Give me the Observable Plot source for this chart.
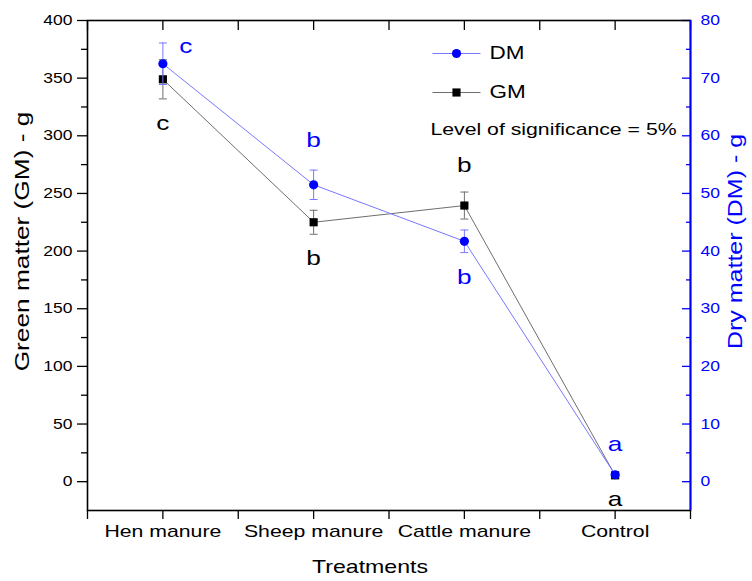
<!DOCTYPE html>
<html><head><meta charset="utf-8">
<script src="https://cdn.jsdelivr.net/npm/d3@7"></script>
<script src="https://cdn.jsdelivr.net/npm/@observablehq/plot@0.6"></script>
<style>
html,body{margin:0;padding:0;background:#fff;}
</style></head><body><div id="chart"></div>
<script>
// ---- data ----
const treatments = ["Hen manure", "Sheep manure", "Cattle manure", "Control"];
const gmValues = [349, 225, 239.5, 5.5];     // Green matter (GM) - g
const gmErrors = [17, 10.4, 11.7, 0];
const dmValues = [72.5, 51.5, 41.7, 1.2];    // Dry matter (DM) - g
const dmErrors = [3.6, 2.55, 1.96, 0];
const gmLetters = ["c", "b", "b", "a"];
const dmLetters = ["c", "b", "b", "a"];
const gmLetterSide = ["below", "below", "above", "below"];
const dmLetterSide = ["right", "above", "below", "above"];
const gmTicks = [0, 50, 100, 150, 200, 250, 300, 350, 400];
const gmMinorTicks = [25, 75, 125, 175, 225, 275, 325, 375];
const dmTicks = [0, 10, 20, 30, 40, 50, 60, 70, 80];
const dmMinorTicks = [5, 15, 25, 35, 45, 55, 65, 75];
const xTicks = [-0.5, 0, 0.5, 1, 1.5, 2, 2.5, 3, 3.5];
const significance = "Level of significance = 5%";

// ---- derived ----
const DM2GM = 400 / 80; // right axis 0..80 aligned with left 0..400
const rows = treatments.map((t, i) => ({
  i, t,
  gm: gmValues[i], gmErr: gmErrors[i],
  dm: dmValues[i] * DM2GM, dmErr: dmErrors[i] * DM2GM,
  gmL: gmLetters[i], dmL: dmLetters[i],
  gmSide: gmLetterSide[i], dmSide: dmLetterSide[i]
}));

const BLUE = "#0000ff";
const LBLUE = "#7878ff";
const GREY = "#6e6e6e";
const capSymbol = {draw(ctx, size) { const r = Math.sqrt(size / Math.PI); ctx.moveTo(-r, 0); ctx.lineTo(r, 0); }};
const lineSymbol = capSymbol;

const chart = Plot.plot({
  width: 752, height: 581,
  marginLeft: 87, marginRight: 62, marginTop: 20, marginBottom: 71,
  style: {fontFamily: "'Liberation Sans', Arial, sans-serif", fontSize: "14px", background: "#fff", overflow: "visible"},
  x: {domain: [-0.5, 3.5]},
  y: {domain: [-25, 400]},
  marks: [
    // axes
    Plot.axisY({anchor: "left", ticks: gmTicks, tickSize: 10, tickPadding: 5, fontSize: 14, label: null, color: "#000", strokeWidth: 1.3}),
    Plot.axisY({anchor: "left", ticks: gmMinorTicks, tickSize: 6, tickFormat: () => "", label: null, color: "#000", strokeWidth: 1.3}),
    Plot.axisY({anchor: "right", ticks: dmTicks.map(d => d * DM2GM), tickFormat: d => String(d / DM2GM), tickSize: -9, tickPadding: 19, fontSize: 14, label: null, color: BLUE, strokeWidth: 1.3}),
    Plot.axisY({anchor: "right", ticks: dmMinorTicks.map(d => d * DM2GM), tickSize: -5, tickFormat: () => "", label: null, color: BLUE, strokeWidth: 1.3}),
    Plot.axisX({anchor: "bottom", ticks: xTicks, tickSize: 9, tickPadding: 5, fontSize: 17, label: null, color: "#000", strokeWidth: 1.3,
      tickFormat: d => Number.isInteger(d) ? treatments[d] : ""}),
    Plot.axisX({anchor: "top", ticks: xTicks, tickSize: -9, tickFormat: () => "", label: null, color: "#000", strokeWidth: 1.3}),
    Plot.frame({stroke: "#000", strokeWidth: 1.6}),
    Plot.ruleX([3.5], {stroke: BLUE, strokeWidth: 1.8}),

    // GM series
    Plot.ruleX(rows.filter(d => d.gmErr > 0), {x: "i", y1: d => d.gm - d.gmErr, y2: d => d.gm + d.gmErr, stroke: GREY, strokeWidth: 1}),
    Plot.dot(rows.filter(d => d.gmErr > 0), {x: "i", y: d => d.gm - d.gmErr, symbol: capSymbol, r: 4, stroke: GREY, fill: "none", strokeWidth: 1}),
    Plot.dot(rows.filter(d => d.gmErr > 0), {x: "i", y: d => d.gm + d.gmErr, symbol: capSymbol, r: 4, stroke: GREY, fill: "none", strokeWidth: 1}),
    Plot.line(rows, {x: "i", y: "gm", stroke: GREY, strokeWidth: 1}),
    Plot.dot(rows, {x: "i", y: "gm", symbol: "square", r: 4.6, fill: "#000", stroke: "none"}),

    // DM series
    Plot.ruleX(rows.filter(d => d.dmErr > 0), {x: "i", y1: d => d.dm - d.dmErr, y2: d => d.dm + d.dmErr, stroke: LBLUE, strokeWidth: 1}),
    Plot.dot(rows.filter(d => d.dmErr > 0), {x: "i", y: d => d.dm - d.dmErr, symbol: capSymbol, r: 4, stroke: LBLUE, fill: "none", strokeWidth: 1}),
    Plot.dot(rows.filter(d => d.dmErr > 0), {x: "i", y: d => d.dm + d.dmErr, symbol: capSymbol, r: 4, stroke: LBLUE, fill: "none", strokeWidth: 1}),
    Plot.line(rows, {x: "i", y: "dm", stroke: LBLUE, strokeWidth: 1}),
    Plot.dot(rows, {x: "i", y: "dm", r: 4.6, fill: BLUE, stroke: "none"}),

    // significance letters
    Plot.text(rows.filter(d => d.gmSide === "below"), {x: "i", y: d => d.gm - d.gmErr, text: "gmL", dy: 24, fontSize: 21, fill: "#000"}),
    Plot.text(rows.filter(d => d.gmSide === "above"), {x: "i", y: d => d.gm + d.gmErr, text: "gmL", dy: -27, fontSize: 21, fill: "#000"}),
    Plot.text(rows.filter(d => d.dmSide === "below"), {x: "i", y: d => d.dm - d.dmErr, text: "dmL", dy: 25, fontSize: 21, fill: BLUE}),
    Plot.text(rows.filter(d => d.dmSide === "above"), {x: "i", y: d => d.dm + d.dmErr, text: "dmL", dy: -30, fontSize: 21, fill: BLUE}),
    Plot.text(rows.filter(d => d.dmSide === "right"), {x: "i", y: d => d.dm + d.dmErr, text: "dmL", dx: 23, dy: 3, fontSize: 21, fill: BLUE}),

    // legend
    Plot.dot(["DM"], {frameAnchor: "top-left", dx: 369, dy: 33, symbol: lineSymbol, r: 24, stroke: LBLUE, fill: "none", strokeWidth: 1}),
    Plot.dot(["DM"], {frameAnchor: "top-left", dx: 369, dy: 33, r: 4.6, fill: BLUE, stroke: "none"}),
    Plot.text(["DM"], {frameAnchor: "top-left", dx: 402, dy: 33, text: d => d, textAnchor: "start", lineAnchor: "middle", fontSize: 18, fill: "#000"}),
    Plot.dot(["GM"], {frameAnchor: "top-left", dx: 369, dy: 72, symbol: lineSymbol, r: 24, stroke: GREY, fill: "none", strokeWidth: 1}),
    Plot.dot(["GM"], {frameAnchor: "top-left", dx: 369, dy: 72, symbol: "square", r: 4.6, fill: "#000", stroke: "none"}),
    Plot.text(["GM"], {frameAnchor: "top-left", dx: 402, dy: 72, text: d => d, textAnchor: "start", lineAnchor: "middle", fontSize: 18, fill: "#000"}),
    Plot.text([significance], {frameAnchor: "top-left", dx: 466, dy: 109, text: d => d, textAnchor: "middle", lineAnchor: "middle", fontSize: 17, fill: "#000"}),

    // axis titles
    Plot.text(["Green matter (GM) - g"], {frameAnchor: "left", dx: -65, dy: -24, rotate: -90, text: d => d, textAnchor: "middle", lineAnchor: "middle", fontSize: 21, fill: "#000"}),
    Plot.text(["Dry matter (DM) - g"], {frameAnchor: "right", dx: 45, dy: -24, rotate: -90, text: d => d, textAnchor: "middle", lineAnchor: "middle", fontSize: 20, fill: BLUE}),
    Plot.text(["Treatments"], {frameAnchor: "bottom", dx: -19, dy: 57, text: d => d, textAnchor: "middle", lineAnchor: "middle", fontSize: 18.5, fill: "#000"})
  ]
});

// the reference's lettering is wider than Arial at the same height: stretch along the baseline
const S = 1.25;
chart.querySelectorAll("text").forEach(t => {
  const tr = t.getAttribute("transform");
  if (tr) t.setAttribute("transform", tr + ` scale(${S},1)`);
  else {
    const x = +t.getAttribute("x") || 0, y = +t.getAttribute("y") || 0;
    t.removeAttribute("x"); t.removeAttribute("y");
    t.setAttribute("transform", `translate(${x},${y}) scale(${S},1)`);
  }
});
document.getElementById("chart").appendChild(chart);
</script></body></html>
